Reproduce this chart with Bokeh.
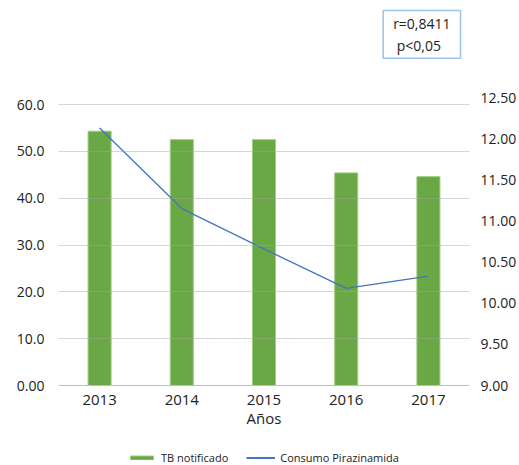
from bokeh.plotting import figure
from bokeh.layouts import column
from bokeh.models import (Range1d, LinearAxis, FixedTicker, Label, Legend, LegendItem,
                          NumeralTickFormatter, FactorRange)
from bokeh.embed import file_html
from bokeh.resources import INLINE

years = ["2013", "2014", "2015", "2016", "2017"]
tb_notificado = [54.3, 52.5, 52.5, 45.4, 44.6]
consumo_pirazinamida = [12.13, 11.15, 10.66, 10.18, 10.33]
left_ticks = [0, 10, 20, 30, 40, 50, 60]
left_tick_labels = ["0.00", "10.0", "20.0", "30.0", "40.0", "50.0", "60.0"]
right_ticks = [9.0, 9.5, 10.0, 10.5, 11.0, 11.5, 12.0, 12.5]
stats_text = "r=0,8411\n\u00a0p<0,05"
series_names = ["TB notificado", "Consumo Pirazinamida"]

FONT = "Open Sans"
TXT = "#222222"
GREEN = "#6aa745"
GREEN_EDGE = "#9ccc7f"
BLUE = "#4472C4"
W = 519
FL, FR = 58, 472   # frame left / right (page px); column aligns frames

# ---------- top strip with the statistics box ----------
top = figure(width=W, height=87, x_range=Range1d(FL, FR), y_range=Range1d(87, 0),
             x_axis_type=None, y_axis_type=None, output_backend="svg",
             toolbar_location=None, min_border=0)
top.outline_line_color = None
top.xgrid.visible = False
top.ygrid.visible = False
stats = Label(x=385, y=10, text=stats_text, text_align="left", text_baseline="top",
              text_font=FONT, text_font_size="14px", text_color=TXT,
              border_line_color="#9dc3e6", border_line_width=1.5, padding=(10, 3),
              background_fill_color="white")
top.add_layout(stats)

# ---------- main chart ----------
p = figure(width=W, height=348, x_range=FactorRange(*years), y_range=Range1d(0, 61.5),
           output_backend="svg", toolbar_location=None,
           min_border_left=FL, min_border_right=W - FR, min_border_top=10, min_border_bottom=50)
p.outline_line_color = None
p.extra_y_ranges = {"right": Range1d(9, 12.5)}

bars = p.vbar(x=years, top=tb_notificado, width=0.28, fill_color=GREEN,
              line_color=GREEN_EDGE, line_width=1)
line = p.line(x=years, y=consumo_pirazinamida, y_range_name="right",
              line_color=BLUE, line_width=1.3)

p.xgrid.grid_line_color = None
p.ygrid.grid_line_color = "#a6a6a6"
p.ygrid.grid_line_alpha = 0.45
p.ygrid.level = "overlay"
p.ygrid.ticker = FixedTicker(ticks=left_ticks)

ya = p.yaxis[0]
ya.ticker = FixedTicker(ticks=left_ticks)
ya.major_label_overrides = dict(zip(left_ticks, left_tick_labels))
ya.axis_line_color = None
ya.major_tick_line_color = None
ya.minor_tick_line_color = None
ya.major_label_standoff = 8
ya.major_label_text_font = FONT
ya.major_label_text_font_size = "14px"
ya.major_label_text_color = TXT

ra = LinearAxis(y_range_name="right", ticker=FixedTicker(ticks=right_ticks),
                formatter=NumeralTickFormatter(format="0.00"))
ra.axis_line_color = None
ra.major_tick_line_color = None
ra.minor_tick_line_color = None
ra.major_label_standoff = 5
ra.major_label_text_font = FONT
ra.major_label_text_font_size = "14px"
ra.major_label_text_color = TXT
p.add_layout(ra, "right")

xa = p.xaxis[0]
xa.axis_line_color = "#bfbfbf"
xa.major_tick_line_color = None
xa.minor_tick_line_color = None
xa.major_label_standoff = 3
xa.major_label_text_font = FONT
xa.major_label_text_font_size = "15px"
xa.major_label_text_color = TXT
xa.axis_label = "Años"
xa.axis_label_standoff = 0
xa.axis_label_text_font = FONT
xa.axis_label_text_font_size = "15px"
xa.axis_label_text_font_style = "normal"
xa.axis_label_text_color = TXT

# ---------- bottom strip with the legend ----------
bot = figure(width=W, height=30, x_range=FactorRange(*years), y_range=Range1d(1000, 1001),
             x_axis_type=None, y_axis_type=None, output_backend="svg",
             toolbar_location=None, min_border=0)
bot.outline_line_color = None
bot.xgrid.visible = False
bot.ygrid.visible = False
# same series, drawn outside this strip's visible range: only used as legend keys
lg_bar = bot.vbar(x=years, top=tb_notificado, width=0.28, fill_color=GREEN, line_color=GREEN_EDGE)
lg_line = bot.line(x=years, y=consumo_pirazinamida, line_color=BLUE, line_width=2)
legend = Legend(items=[LegendItem(label=series_names[0], renderers=[lg_bar]),
                       LegendItem(label=series_names[1], renderers=[lg_line])],
                orientation="horizontal", location=(127 - FL, 0),
                border_line_color=None, background_fill_alpha=0,
                label_text_font=FONT, label_text_font_size="11px", label_text_color=TXT,
                label_height=12, glyph_width=29, glyph_height=5, spacing=18, label_standoff=5,
                padding=0, margin=0)
bot.add_layout(legend)

layout = column(top, p, bot, spacing=0)
open("out.html", "w").write(file_html(layout, INLINE))
